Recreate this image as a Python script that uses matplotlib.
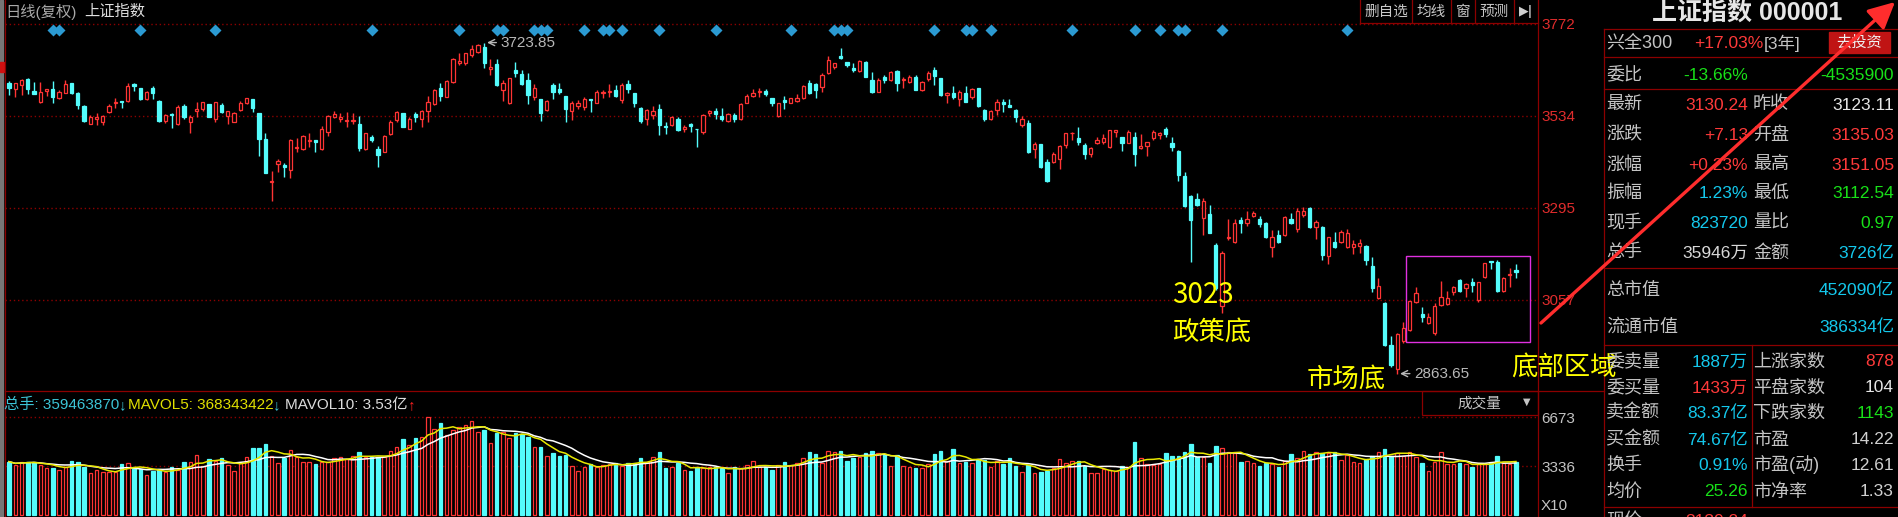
import matplotlib
matplotlib.use('Agg')
import matplotlib.pyplot as plt
import numpy as np
import pandas as pd
from matplotlib.patches import Rectangle

plt.rcParams['font.family'] = ['Liberation Sans', 'Noto Sans CJK SC', 'DejaVu Sans']

# 上证指数 daily candles (242 sessions)
opens = [
    3618, 3603, 3614, 3629, 3599, 3571, 3599, 3603, 3579, 3594,
    3618, 3594, 3560, 3513, 3526, 3519, 3545, 3566, 3572, 3572,
    3616, 3605, 3577, 3605, 3573, 3521, 3539, 3512, 3560, 3517,
    3547, 3551, 3564, 3526, 3562, 3534, 3519, 3548, 3566, 3577,
    3540, 3474, 3363, 3409, 3406, 3393, 3450, 3448, 3469, 3470,
    3447, 3493, 3532, 3525, 3520, 3520, 3514, 3448, 3480, 3448,
    3441, 3487, 3523, 3540, 3500, 3539, 3526, 3547, 3565, 3605,
    3584, 3622, 3672, 3670, 3692, 3700, 3713, 3655, 3668, 3601,
    3566, 3654, 3642, 3628, 3584, 3577, 3549, 3614, 3603, 3586,
    3547, 3559, 3556, 3577, 3568, 3592, 3595, 3601, 3575, 3616,
    3592, 3555, 3525, 3536, 3551, 3507, 3510, 3527, 3499, 3513,
    3501, 3493, 3540, 3547, 3533, 3521, 3536, 3525, 3568, 3585,
    3596, 3598, 3579, 3533, 3575, 3568, 3573, 3579, 3620, 3616,
    3608, 3646, 3660, 3689, 3674, 3659, 3651, 3674, 3627, 3596,
    3635, 3627, 3650, 3628, 3622, 3635, 3601, 3629, 3653, 3631,
    3588, 3592, 3577, 3594, 3582, 3605, 3549, 3526, 3549, 3571,
    3562, 3549, 3510, 3515, 3448, 3460, 3413, 3413, 3421, 3458,
    3489, 3477, 3458, 3434, 3464, 3467, 3454, 3493, 3480, 3464,
    3478, 3451, 3456, 3476, 3484, 3500, 3464, 3444, 3378, 3326,
    3318, 3268, 3280, 3199, 3041, 3217, 3208, 3264, 3257, 3274,
    3266, 3255, 3195, 3225, 3225, 3266, 3240, 3277, 3294, 3247,
    3245, 3171, 3208, 3208, 3195, 3193, 3197, 3197, 3145, 3061,
    3050, 2940, 2877, 2949, 2979, 3052, 3020, 2998, 2972, 3044,
    3046, 3076, 3108, 3087, 3104, 3057, 3115, 3158, 3156, 3080,
    3121, 3135.03,
]
highs = [
    3625, 3620, 3630, 3631, 3622, 3622, 3603, 3625, 3601, 3628,
    3620, 3597, 3562, 3536, 3540, 3536, 3564, 3579, 3573, 3620,
    3620, 3605, 3599, 3612, 3575, 3539, 3540, 3562, 3565, 3536,
    3571, 3571, 3564, 3571, 3566, 3547, 3545, 3573, 3581, 3577,
    3540, 3489, 3391, 3422, 3412, 3473, 3476, 3484, 3489, 3470,
    3508, 3536, 3547, 3540, 3545, 3542, 3533, 3490, 3484, 3456,
    3484, 3523, 3546, 3542, 3532, 3545, 3549, 3585, 3603, 3618,
    3627, 3683, 3698, 3698, 3718, 3720, 3723.85, 3680, 3680, 3628,
    3633, 3673, 3654, 3644, 3616, 3577, 3575, 3618, 3620, 3586,
    3573, 3575, 3584, 3577, 3601, 3601, 3616, 3614, 3618, 3628,
    3592, 3558, 3552, 3559, 3565, 3519, 3533, 3530, 3510, 3516,
    3501, 3539, 3549, 3553, 3553, 3542, 3540, 3566, 3590, 3603,
    3605, 3603, 3579, 3568, 3586, 3581, 3590, 3614, 3628, 3620,
    3644, 3690, 3672, 3709, 3674, 3670, 3679, 3677, 3648, 3631,
    3640, 3650, 3652, 3635, 3640, 3640, 3625, 3650, 3660, 3633,
    3596, 3610, 3600, 3610, 3606, 3605, 3552, 3549, 3578, 3578,
    3578, 3551, 3534, 3523, 3467, 3460, 3421, 3441, 3458, 3490,
    3493, 3506, 3463, 3454, 3480, 3486, 3497, 3496, 3480, 3496,
    3493, 3487, 3467, 3496, 3493, 3506, 3480, 3445, 3389, 3329,
    3333, 3320, 3303, 3203, 3184, 3266, 3266, 3271, 3286, 3286,
    3273, 3260, 3238, 3238, 3274, 3281, 3294, 3297, 3297, 3264,
    3248, 3221, 3234, 3238, 3240, 3212, 3214, 3199, 3167, 3113,
    3052, 2963, 2972, 3000, 3055, 3089, 3038, 3022, 3050, 3107,
    3081, 3093, 3110, 3100, 3113, 3104, 3153, 3158, 3160, 3115,
    3139, 3151.05,
]
lows = [
    3588, 3584, 3588, 3590, 3590, 3568, 3585, 3568, 3577, 3592,
    3590, 3552, 3519, 3512, 3509, 3509, 3542, 3553, 3553, 3571,
    3599, 3575, 3575, 3577, 3519, 3516, 3503, 3509, 3525, 3490,
    3532, 3547, 3532, 3519, 3540, 3513, 3517, 3546, 3565, 3545,
    3431, 3387, 3313, 3389, 3376, 3374, 3441, 3445, 3454, 3441,
    3445, 3482, 3529, 3519, 3506, 3514, 3444, 3445, 3465, 3402,
    3439, 3484, 3517, 3504, 3499, 3519, 3504, 3519, 3562, 3573,
    3582, 3618, 3666, 3666, 3686, 3698, 3659, 3641, 3611, 3573,
    3564, 3634, 3614, 3565, 3575, 3521, 3547, 3578, 3590, 3519,
    3523, 3551, 3549, 3545, 3566, 3581, 3582, 3584, 3568, 3594,
    3558, 3516, 3510, 3527, 3484, 3488, 3508, 3495, 3493, 3493,
    3454, 3487, 3533, 3525, 3521, 3519, 3519, 3523, 3566, 3582,
    3582, 3585, 3559, 3532, 3551, 3566, 3571, 3577, 3590, 3579,
    3596, 3642, 3655, 3680, 3660, 3648, 3648, 3635, 3592, 3595,
    3620, 3624, 3598, 3607, 3618, 3600, 3598, 3625, 3614, 3585,
    3566, 3578, 3560, 3569, 3578, 3557, 3520, 3523, 3536, 3545,
    3557, 3519, 3506, 3437, 3425, 3398, 3363, 3411, 3396, 3451,
    3471, 3458, 3421, 3428, 3461, 3461, 3450, 3478, 3444, 3463,
    3405, 3448, 3431, 3471, 3473, 3480, 3444, 3366, 3297, 3156,
    3299, 3225, 3231, 3082, 3023.3, 3212, 3205, 3229, 3248, 3271,
    3245, 3216, 3167, 3203, 3222, 3254, 3234, 3271, 3242, 3214,
    3160, 3150, 3191, 3205, 3191, 3176, 3178, 3147, 3078, 3058,
    2936, 2884, 2863.65, 2946, 2977, 3050, 3000, 2994, 2966, 3041,
    3044, 3070, 3078, 3065, 3078, 3052, 3113, 3136, 3078, 3078,
    3089, 3112.54,
]
closes = [
    3607, 3618, 3628, 3603, 3590, 3597, 3603, 3584, 3597, 3616,
    3592, 3562, 3521, 3532, 3530, 3533, 3560, 3571, 3571, 3612,
    3610, 3577, 3597, 3594, 3521, 3536, 3536, 3558, 3530, 3530,
    3551, 3569, 3532, 3569, 3543, 3546, 3542, 3568, 3579, 3553,
    3474, 3387, 3366, 3418, 3402, 3470, 3452, 3482, 3471, 3467,
    3499, 3533, 3539, 3530, 3523, 3523, 3450, 3489, 3471, 3432,
    3482, 3519, 3543, 3506, 3527, 3532, 3546, 3570, 3601, 3586,
    3625, 3680, 3677, 3696, 3706, 3717, 3670, 3660, 3614, 3620,
    3631, 3644, 3616, 3588, 3607, 3542, 3573, 3597, 3597, 3551,
    3568, 3566, 3578, 3575, 3596, 3596, 3598, 3586, 3614, 3603,
    3568, 3520, 3549, 3547, 3510, 3504, 3530, 3497, 3504, 3507,
    3499, 3536, 3546, 3539, 3525, 3539, 3525, 3564, 3585, 3594,
    3598, 3590, 3568, 3566, 3569, 3579, 3579, 3611, 3594, 3601,
    3641, 3679, 3671, 3683, 3666, 3653, 3677, 3635, 3596, 3628,
    3627, 3648, 3620, 3630, 3635, 3601, 3622, 3646, 3636, 3588,
    3592, 3582, 3597, 3571, 3603, 3559, 3525, 3546, 3571, 3565,
    3558, 3530, 3527, 3439, 3460, 3400, 3366, 3435, 3456, 3489,
    3490, 3465, 3434, 3450, 3471, 3476, 3496, 3496, 3463, 3493,
    3435, 3457, 3467, 3493, 3490, 3486, 3452, 3381, 3299, 3264,
    3303, 3314, 3231, 3087, 3178, 3221, 3257, 3257, 3266, 3281,
    3254, 3221, 3219, 3208, 3271, 3257, 3288, 3288, 3245, 3260,
    3173, 3219, 3195, 3234, 3231, 3202, 3205, 3160, 3087, 3093,
    2940, 2888, 2968, 2983, 3055, 3074, 3012, 3013, 3041, 3064,
    3061, 3089, 3081, 3098, 3095, 3102, 3152, 3156, 3080, 3113,
    3123.11, 3130.24,
]
# volume, units of 10万手 (axis shows X10 万)
volumes = [
    3632, 3405, 3587, 3632, 3632, 3405, 3178, 3223, 3065, 3292,
    3700, 3587, 3292, 2837, 3065, 2906, 2951, 2951, 3450, 3518,
    3292, 3133, 2724, 2996, 3133, 2906, 3246, 3065, 3587, 3587,
    4086, 3360, 3814, 3677, 3859, 3405, 2996, 3518, 3972, 4540,
    4540, 4812, 4041, 3518, 3904, 4426, 3972, 3587, 3587, 3450,
    3632, 3632, 3904, 3972, 3814, 4018, 4268, 3927, 3972, 3927,
    3972, 4358, 4654, 5176, 4767, 5266, 5334, 6697, 5857, 6243,
    5448, 5788, 6016, 6129, 6424, 5675, 5788, 4880, 5561, 5676,
    5222, 5607, 5517, 5335, 4654, 4654, 4041, 4200, 4041, 4086,
    3337, 3019, 3292, 3473, 3292, 3405, 3473, 3564, 3337, 3564,
    3564, 3860, 3632, 3928, 4268, 3178, 3247, 3564, 3065, 3019,
    3247, 3178, 3247, 3292, 3178, 2838, 3247, 3178, 3405, 3678,
    3292, 3292, 3065, 3405, 3587, 3405, 3564, 3860, 4268, 4132,
    3519, 4359, 4268, 4382, 3701, 3860, 3973, 4200, 4382, 4200,
    4087, 3337, 4087, 3337, 3247, 3178, 3178, 3474, 4155, 4382,
    3701, 4473, 3564, 3632, 3519, 3746, 3746, 3247, 3701, 3474,
    3860, 3337, 2952, 3405, 2883, 2952, 3019, 3178, 3791, 3564,
    3701, 3701, 3337, 2838, 2838, 3110, 3065, 3019, 3337, 3247,
    4972, 3860, 3474, 3405, 3474, 4200, 4041, 4041, 4268, 4813,
    3928, 3973, 3519, 4722, 4541, 4268, 4200, 3632, 3701, 3564,
    3337, 3519, 3474, 3292, 3701, 4132, 3860, 4382, 4155, 4314,
    4246, 4200, 4268, 3746, 4087, 3632, 3564, 3791, 4019, 4314,
    4473, 3973, 4246, 4019, 4314, 3973, 3564, 3019, 3632, 4314,
    3474, 3474, 3519, 3474, 3292, 3474, 3474, 3564, 4000, 3550,
    3500, 3595,
]

price_ticks = [3772, 3534, 3295, 3057]
vol_ticks = [6673, 3336]
signal_days = [7, 8, 21, 33, 58, 72, 78, 79, 84, 85, 86, 92, 95, 96, 98,
               104, 113, 125, 132, 133, 134, 148, 153, 154, 157, 170, 180,
               184, 187, 188, 194, 214]
high_day, high_val = 76, 3723.85
low_day, low_val = 222, 2863.65
box_days = (223.4, 243.2)
box_prices = (2948.4, 3171.4)

W, H = 1898, 517
RED = '#ff3434'
CYAN = '#54fcfc'
GRID = '#8c0000'
FRAME = '#8c0000'
LBL = '#c4c4c4'
VRED = '#ff3a3a'
VGRN = '#18e018'
VCYN = '#14c8ec'
VWHT = '#e6e6e6'
YEL = '#ffff00'


def rect(x0, y0, x1, y1):
    return [x0 / W, 1 - y1 / H, (x1 - x0) / W, (y1 - y0) / H]


fig = plt.figure(figsize=(W / 100, H / 100), dpi=100, facecolor='black')

o = np.array(opens, float)
h = np.array(highs, float)
l = np.array(lows, float)
c = np.array(closes, float)
v = np.array(volumes, float)
n = len(c)
x = np.arange(n)
up = c >= o
XLIM = (-0.64, 244.52)

# ---- price panel ----
ax = fig.add_axes(rect(5, 0, 1538, 390))
ax.set_facecolor('black')
ax.set_xlim(*XLIM)
ax.set_ylim(2823.2, 3834.2)
for p in price_ticks:
    ax.axhline(p, color=GRID, lw=1, ls=(0, (1, 2)), zorder=0)
ax.vlines(x, l, h, colors=np.where(up, RED, CYAN), lw=1, zorder=2)
lo = np.minimum(o, c)
bh = np.maximum(np.abs(c - o), 1.2)
ax.bar(x[up], bh[up], bottom=lo[up], width=0.52, facecolor='black',
       edgecolor=RED, lw=0.9, zorder=3)
ax.bar(x[~up], bh[~up], bottom=lo[~up], width=0.52, facecolor=CYAN,
       edgecolor=CYAN, lw=0.9, zorder=3)
ax.plot(signal_days, [1 - 30 / 390] * len(signal_days), 'D', color='#2b9ad2',
        ms=6.5, mec='none', transform=ax.get_xaxis_transform(), zorder=4)
ax.annotate(f'{high_val:.2f}', xy=(high_day + 0.45, high_val),
            xytext=(high_day + 2.6, high_val), color='#b8b8b8', fontsize=11,
            va='center', ha='left',
            arrowprops=dict(arrowstyle='->', color='#b8b8b8', lw=1,
                            shrinkA=1, shrinkB=0))
ax.annotate(f'{low_val:.2f}', xy=(low_day + 0.45, low_val + 2),
            xytext=(low_day + 2.7, low_val + 2), color='#b8b8b8', fontsize=11,
            va='center', ha='left',
            arrowprops=dict(arrowstyle='->', color='#b8b8b8', lw=1,
                            shrinkA=1, shrinkB=0))
ax.add_patch(Rectangle((box_days[0], box_prices[0]), box_days[1] - box_days[0],
                       box_prices[1] - box_prices[0], fill=False,
                       ec='#e030e0', lw=1, zorder=5))
ax.yaxis.tick_right()
ax.set_yticks(price_ticks)
ax.set_yticklabels([str(t) for t in price_ticks])
ax.tick_params(axis='y', length=0, pad=2.5, labelsize=11, labelcolor='#e02c2c')
ax.set_xticks([])
for s in ax.spines.values():
    s.set_visible(False)

# ---- volume panel ----
axv = fig.add_axes(rect(5, 391, 1538, 517))
axv.set_facecolor('black')
axv.set_xlim(*XLIM)
axv.set_ylim(-136, 8444)
for t in vol_ticks:
    axv.axhline(t, color=GRID, lw=1, ls=(0, (1, 2)), zorder=0)
axv.bar(x[up], v[up], width=0.56, facecolor='black', edgecolor=RED, lw=0.9, zorder=2)
axv.bar(x[~up], v[~up], width=0.56, facecolor=CYAN, edgecolor=CYAN, lw=0.9, zorder=2)
vs = pd.Series(v)
axv.plot(x, vs.rolling(10, min_periods=1).mean(), color='#ffffff', lw=1.1, zorder=3)
axv.plot(x, vs.rolling(5, min_periods=1).mean(), color='#e8e800', lw=1.1, zorder=4)
axv.yaxis.tick_right()
axv.set_yticks(vol_ticks)
axv.set_yticklabels([str(t) for t in vol_ticks])
axv.tick_params(axis='y', length=0, pad=2.5, labelsize=11, labelcolor=LBL)
axv.set_xticks([])
for s in axv.spines.values():
    s.set_visible(False)

# ---- frame, headers and quote panel (pixel coordinates) ----
ui = fig.add_axes([0, 0, 1, 1])
ui.set_xlim(0, W)
ui.set_ylim(H, 0)
ui.axis('off')
ui.patch.set_alpha(0)

ui.add_patch(Rectangle((0, 0), 3.5, H, color='#767676'))
ui.add_patch(Rectangle((0, 62), 4, 10, color='#d01010'))
lw = 0.9
ui.plot([5, 5], [0, H], color=FRAME, lw=lw)
ui.plot([1538, 1538], [0, H], color=FRAME, lw=lw)
ui.plot([1604, 1604], [29, H], color=FRAME, lw=lw)
ui.plot([5, 1604], [390.5, 390.5], color=FRAME, lw=lw)
ui.plot([1360.5, 1538], [23, 23], color=FRAME, lw=lw)
for bx in [1360.5, 1412, 1451, 1475, 1514]:
    ui.plot([bx, bx], [0, 23], color=FRAME, lw=lw)
for ty in [29, 57, 89, 268, 345, 507]:
    ui.plot([1604, W], [ty, ty], color=FRAME, lw=lw)
ui.plot([1752, 1752], [345, 507], color=FRAME, lw=lw)
ui.add_patch(Rectangle((1422, 391), 116, 24, fill=False, ec=FRAME, lw=lw))

ui.text(5, 12, '日线(复权)', color='#a8a8a8', fontsize=11, va='center')
ui.text(84, 12, '上证指数', color='#e0e0e0', fontsize=11, va='center')
for label, cx in [('删自选', 1386), ('均线', 1431.5), ('窗', 1463), ('预测', 1494.5)]:
    ui.text(cx, 12, label, color='#c8c8c8', fontsize=10.5, ha='center', va='center')
ui.text(1526, 12, '▶|', color='#d0d0d0', fontsize=9, ha='center', va='center',
        family='DejaVu Sans', fontweight='bold')
ui.text(1479, 404, '成交量', color=LBL, fontsize=10.5, ha='center', va='center')
ui.text(1527, 402, '▼', color=LBL, fontsize=7, ha='center', va='center',
        family='DejaVu Sans')
ui.text(1541, 506, 'X10', color=LBL, fontsize=11, va='center')

# volume legend, each piece placed right after the previous one
legend_parts = [
    ('总手: 359463870', '#3cc4d6', 0),
    ('↓', '#3cc4d6', 0),
    ('MAVOL5: 368343422', '#e0e000', 0.5),
    ('↓', '#3cc4d6', 0),
    ('MAVOL10: 3.53亿', '#dcdcdc', 3),
    ('↑', '#ff2020', 0),
]
prev = ui.text(4, 405, legend_parts[0][0], color=legend_parts[0][1],
               fontsize=11, va='center')
for txt, col, gap in legend_parts[1:]:
    prev = ui.annotate(txt, xy=(1, 0.5), xycoords=prev, xytext=(gap, 0),
                       textcoords='offset points', color=col, fontsize=11,
                       va='center', ha='left')

# yellow hand-written notes
ui.text(1172, 295, '3023', color=YEL, fontsize=20, va='center', family='Noto Sans CJK SC')
ui.text(1172, 332, '政策底', color=YEL, fontsize=19, va='center', family='Noto Sans CJK SC')
ui.text(1307, 379, '市场底', color=YEL, fontsize=19, va='center', family='Noto Sans CJK SC')
ui.text(1511, 367, '底部区域', color=YEL, fontsize=19, va='center', family='Noto Sans CJK SC')

# quote panel
ui.text(1747, 14, '上证指数 000001', color='#e6e6e6', fontsize=18, fontweight='bold',
        ha='center', va='center')
ui.text(1606, 43, '兴全300', color=LBL, fontsize=13, va='center')
ui.text(1694, 43, '+17.03%', color=VRED, fontsize=12.5, va='center')
ui.text(1764, 43, '[3年]', color=LBL, fontsize=12.5, va='center')
ui.add_patch(Rectangle((1829, 32), 61, 21, color='#c01414'))
ui.text(1859.5, 42.5, '去投资', color='#f0f0f0', fontsize=11, ha='center', va='center')
ui.text(1606, 75, '委比', color=LBL, fontsize=13, va='center')
ui.text(1748, 75, '-13.66%', color=VGRN, fontsize=12.5, ha='right', va='center')
ui.text(1894, 75, '-4535900', color=VGRN, fontsize=12.5, ha='right', va='center')

rows = [
    (105, '最新', '3130.24', VRED, '昨收', '3123.11', VWHT),
    (135, '涨跌', '+7.13', VRED, '开盘', '3135.03', VRED),
    (165, '涨幅', '+0.23%', VRED, '最高', '3151.05', VRED),
    (193, '振幅', '1.23%', VCYN, '最低', '3112.54', VGRN),
    (223, '现手', '823720', VCYN, '量比', '0.97', VGRN),
    (253, '总手', '35946万', '#d8d8d8', '金额', '3726亿', VCYN),
    (362, '委卖量', '1887万', VCYN, '上涨家数', '878', VRED),
    (388, '委买量', '1433万', VRED, '平盘家数', '104', VWHT),
    (413, '卖金额', '83.37亿', VCYN, '下跌家数', '1143', VGRN),
    (440, '买金额', '74.67亿', VCYN, '市盈', '14.22', '#d0d0d0'),
    (465, '换手', '0.91%', VCYN, '市盈(动)', '12.61', '#d0d0d0'),
    (492, '均价', '25.26', VGRN, '市净率', '1.33', '#d0d0d0'),
]
for ry, l1, v1, c1, l2, v2, c2 in rows:
    ui.text(1606, ry, l1, color=LBL, fontsize=13, va='center')
    ui.text(1748, ry, v1, color=c1, fontsize=12.5, ha='right', va='center')
    ui.text(1753, ry, l2, color=LBL, fontsize=13, va='center')
    ui.text(1894, ry, v2, color=c2, fontsize=12.5, ha='right', va='center')
for ry, l1, v1 in [(290, '总市值', '452090亿'), (327, '流通市值', '386334亿')]:
    ui.text(1606, ry, l1, color=LBL, fontsize=13, va='center')
    ui.text(1894, ry, v1, color=VCYN, fontsize=12.5, ha='right', va='center')
# last row of the quote panel, only its top edge shows in the screenshot
ui.text(1606, 522, '现价', color=LBL, fontsize=13, va='center')
ui.text(1748, 522, '3130.24', color=VRED, fontsize=12.5, ha='right', va='center')

# red arrow drawn over the screenshot
ui.annotate('', xy=(1895, 2), xytext=(1541, 323),
            arrowprops=dict(arrowstyle='-|>,head_length=0.8,head_width=0.4',
                            color='#ff2d2d', lw=2.4, mutation_scale=20,
                            shrinkA=0, shrinkB=0),
            annotation_clip=False, zorder=20)

fig.savefig('out.png', dpi=100, facecolor='black')
